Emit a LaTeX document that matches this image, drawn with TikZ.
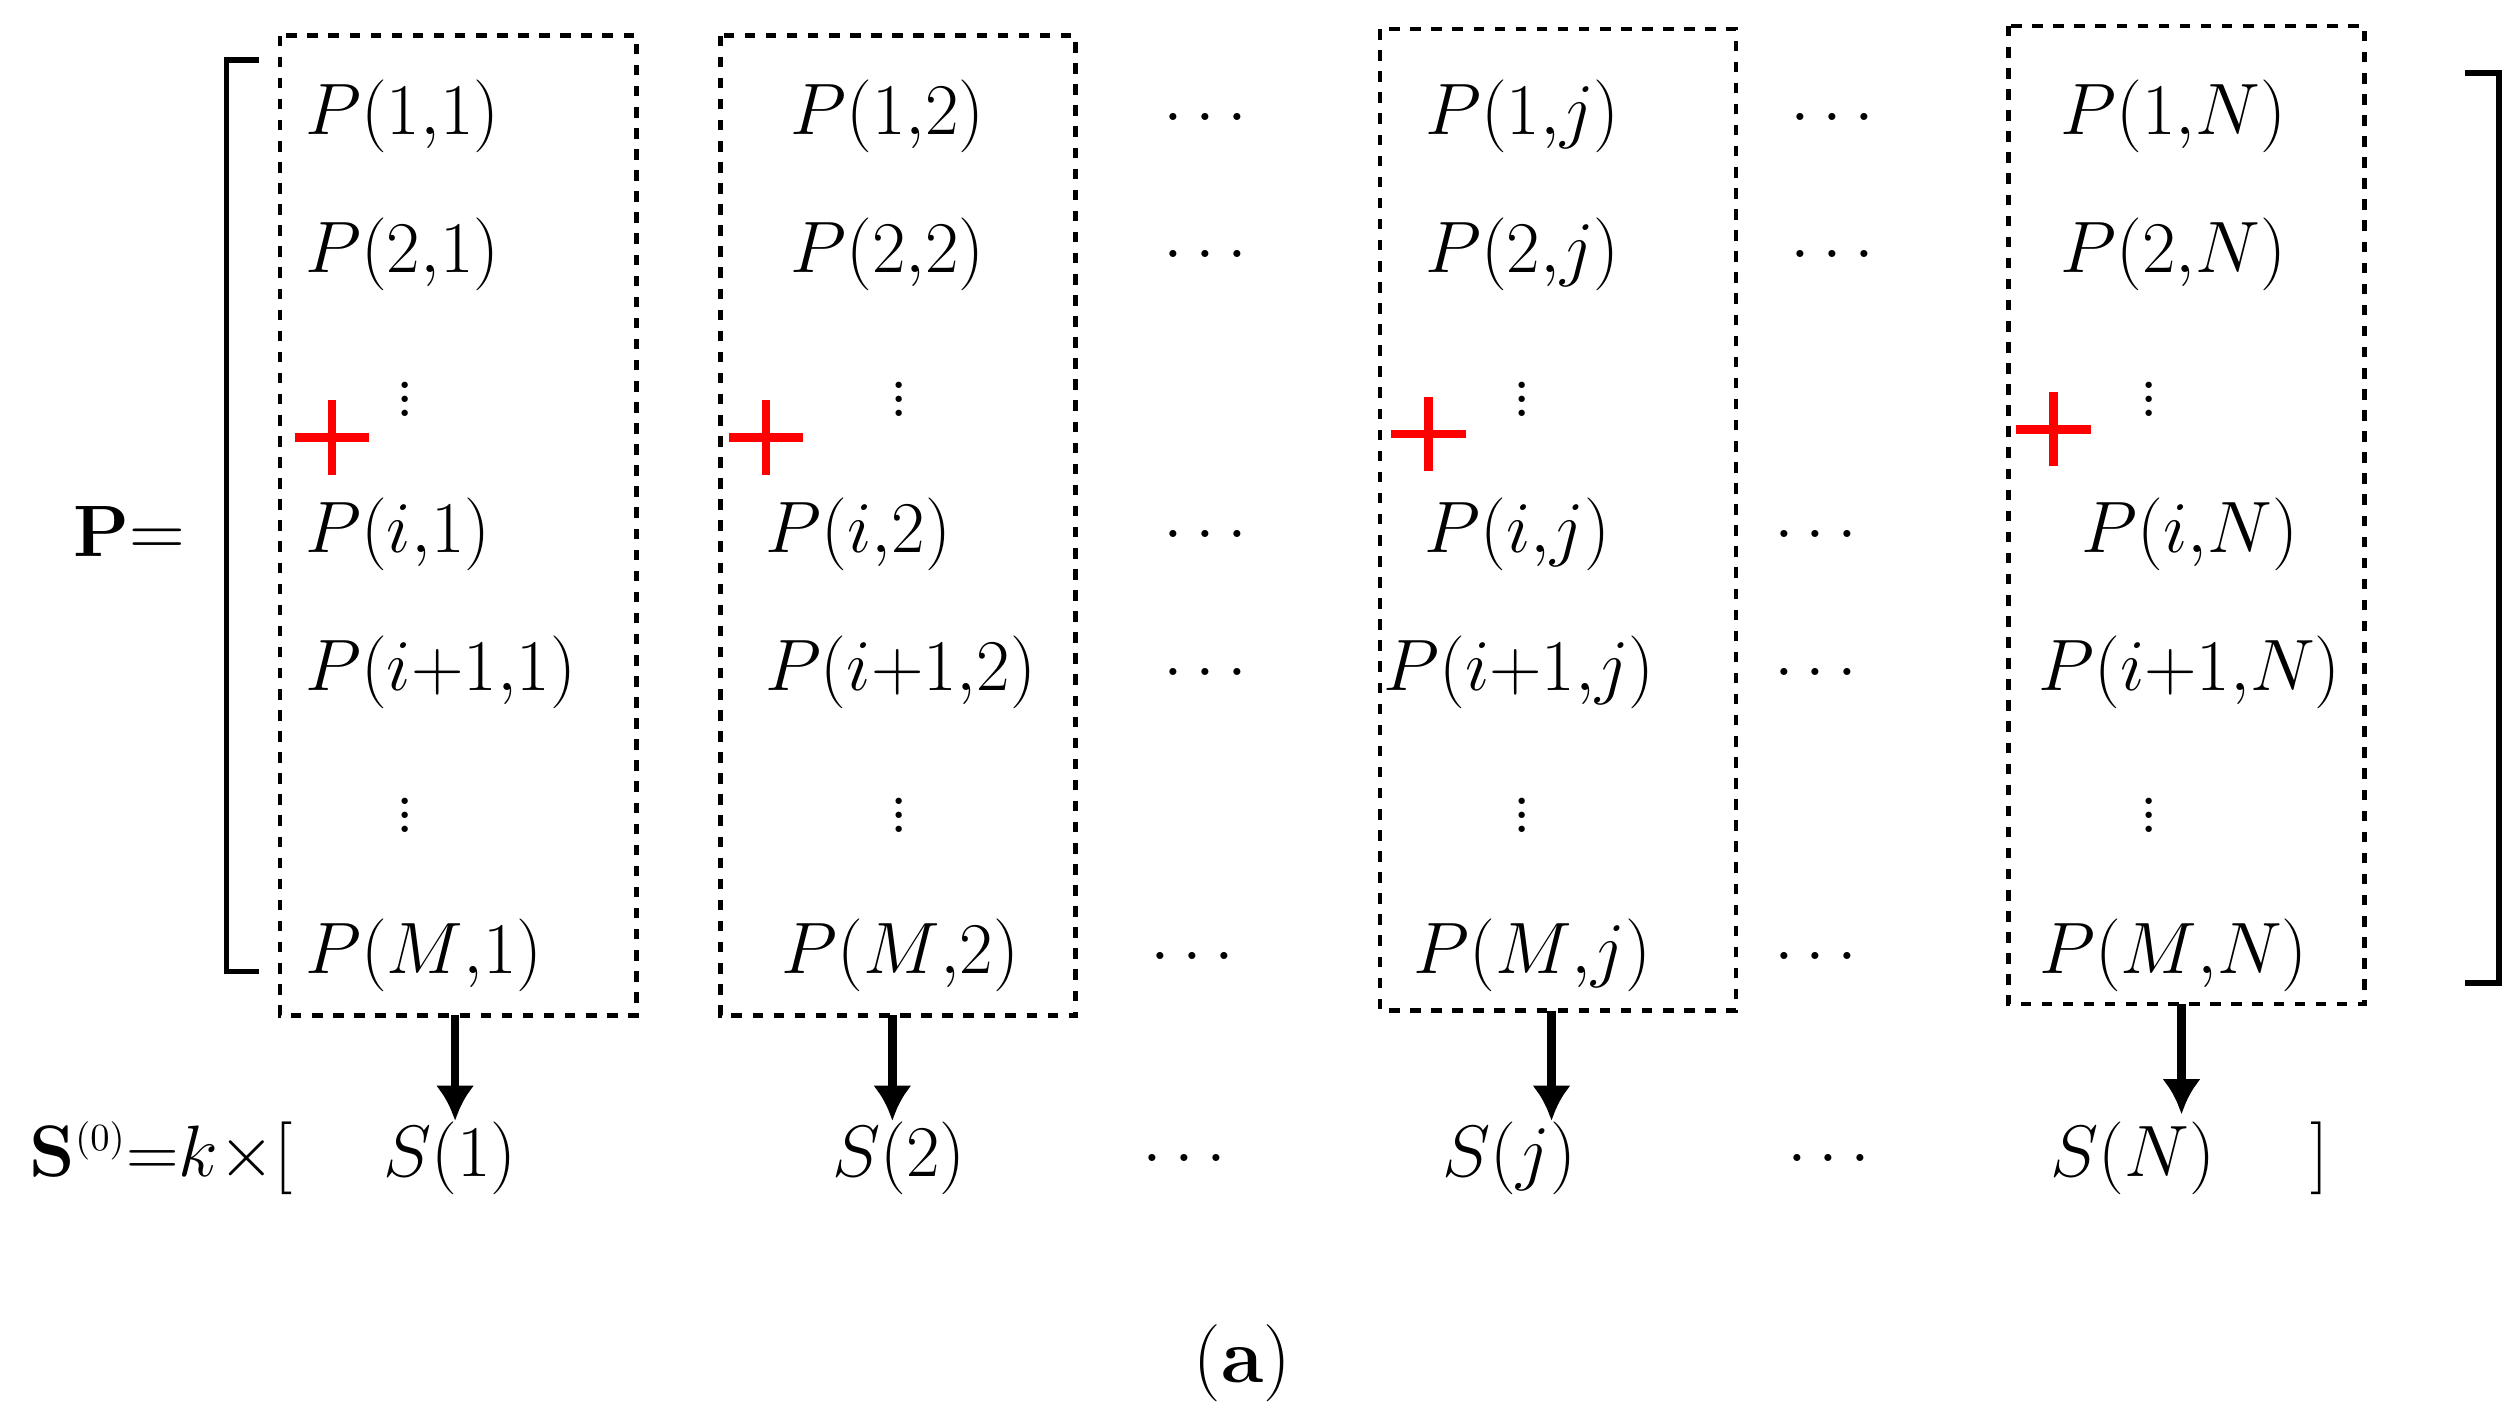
\documentclass[tikz,border=0pt]{standalone}
\usepackage{amsmath}
\usetikzlibrary{arrows.meta}
\begin{document}
\begin{tikzpicture}[x=0.0162cm,y=-0.0162cm,
  t/.style={font=\fontsize{22}{26}\selectfont,inner sep=0pt},
  box/.style={draw,dashed,line width=1.3pt},
  arr/.style={-{Latex[length=10pt,width=11pt]},line width=2.5pt},
  pl/.style={red,line width=2.5pt}]
\useasboundingbox (0,0) rectangle (1556,870.6);
% boxes
\draw[box] (173,22) rectangle (393,627);
\draw[box] (445,22) rectangle (664,627);
\draw[box] (852,18) rectangle (1072,624);
\draw[box] (1240,16) rectangle (1460,620);
% brackets
\draw[line width=1.5pt] (160,37) -- (140,37) -- (140,600) -- (160,600);
\draw[line width=1.5pt] (1522,45) -- (1543,45) -- (1543,607) -- (1522,607);
\node[t] (Peq) at (80,328) {$\mathbf{P}$=};
% column 1
\node[t,anchor=west] (p11) at (188,72) {$P(1{,}1)$};
\node[t,anchor=west] (p21) at (188,157) {$P(2{,}1)$};
\node[t] (v11) at (250,240) {$\vdots$};
\node[t,anchor=west] (pi1) at (188,330) {$P(i{,}1)$};
\node[t,anchor=west] (pii1) at (188,415) {$P(i{+}1{,}1)$};
\node[t] (v21) at (250,497) {$\vdots$};
\node[t,anchor=west] (pM1) at (188,590) {$P(M{,}1)$};
% column 2
\node[t] (p12) at (548,72) {$P(1{,}2)$};
\node[t] (p22) at (548,157) {$P(2{,}2)$};
\node[t] (v12) at (555,240) {$\vdots$};
\node[t] (pi2) at (530,330) {$P(i{,}2)$};
\node[t] (pii2) at (556,415) {$P(i{+}1{,}2)$};
\node[t] (v22) at (555,497) {$\vdots$};
\node[t] (pM2) at (556,590) {$P(M{,}2)$};
% column 3
\node[t] (p1j) at (940,72) {$P(1{,}j)$};
\node[t] (p2j) at (940,157) {$P(2{,}j)$};
\node[t] (v1j) at (940,240) {$\vdots$};
\node[t] (pij) at (937,330) {$P(i{,}j)$};
\node[t] (piij) at (938,415) {$P(i{+}1{,}j)$};
\node[t] (v2j) at (940,497) {$\vdots$};
\node[t] (pMj) at (946,590) {$P(M{,}j)$};
% column 4
\node[t] (p1N) at (1342,72) {$P(1{,}N)$};
\node[t] (p2N) at (1342,157) {$P(2{,}N)$};
\node[t] (v1N) at (1327,240) {$\vdots$};
\node[t] (piN) at (1352,330) {$P(i{,}N)$};
\node[t] (piiN) at (1352,415) {$P(i{+}1{,}N)$};
\node[t] (v2N) at (1327,497) {$\vdots$};
\node[t] (pMN) at (1342,590) {$P(M{,}N)$};
% horizontal dots
\foreach \n/\x/\y in {a/748/72,b/748/157,c/748/330,d/748/415,e/740/590,
  f/1135/72,g/1135/157,h/1125/330,i/1125/415,j/1125/590,k/735/715,l/1133/715}
  \node[t] (d\n) at (\x,\y) {$\dots$};
% red plus
\foreach \x/\y in {205/270,473/270,882/268,1268/265}{
  \draw[pl] (\x-23,\y) -- (\x+23,\y); \draw[pl] (\x,\y-23) -- (\x,\y+23);}
% bottom row
\node[t,anchor=west] (S0) at (18,715) {$\mathbf{S}^{\scriptscriptstyle(0)}{=}k{\times}[$};
\node[t] (s1) at (278,715) {$S(1)$};
\node[t] (s2) at (555,715) {$S(2)$};
\node[t] (sj) at (932,715) {$S(j)$};
\node[t] (sN) at (1317,715) {$S(N)$};
\node[t] (rb) at (1432,715) {$]$};
\coordinate (c1) at (281,627); \coordinate (c2) at (551,627);
\coordinate (c3) at (958,624); \coordinate (c4) at (1347,620);
\draw[arr] (c1) -- (281,692);
\draw[arr] (c2) -- (551,692);
\draw[arr] (c3) -- (958,692);
\draw[arr] (c4) -- (1347,688);
\node[t] (cap) at (767,842) {(\textbf{a})};
\end{tikzpicture}
\end{document}
